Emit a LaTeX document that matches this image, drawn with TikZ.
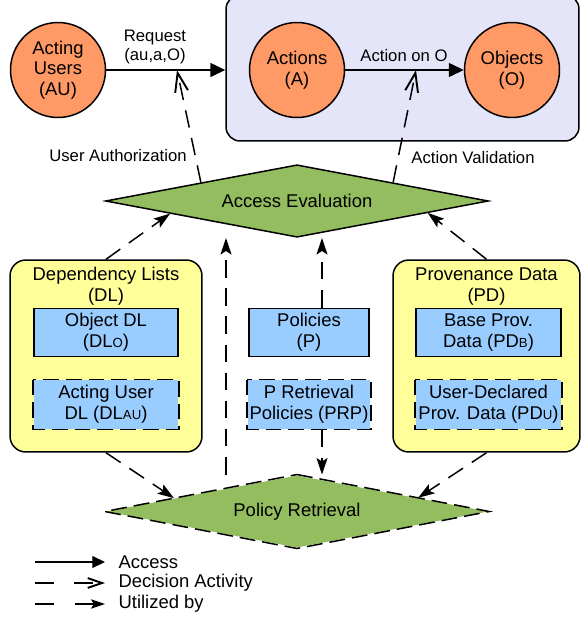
\documentclass[tikz,border=0pt]{standalone}
\usepackage{fontspec}
\setmainfont{Liberation Sans}
\usetikzlibrary{shapes.geometric,arrows.meta,calc}

\definecolor{entityorange}{RGB}{255,153,102}
\definecolor{worldlav}{RGB}{229,229,250}
\definecolor{datayellow}{RGB}{255,255,153}
\definecolor{storeblue}{RGB}{153,204,255}
\definecolor{evalgreen}{RGB}{147,189,94}

\newcommand{\smidx}[1]{{\fontsize{7.5}{8}\selectfont #1}}

\begin{document}
\begin{tikzpicture}[x=0.02cm, y=-0.02cm, line width=0.85pt,
    every node/.style={font=\fontsize{10.5}{11.8}\selectfont},
    lbl/.style={font=\fontsize{9.5}{10.8}\selectfont, align=center},
    entity/.style={circle, draw, fill=entityorange, minimum size=1.9cm, inner sep=0pt, align=center},
    world/.style={draw, fill=worldlav, rounded corners=8pt, minimum width=7.06cm, minimum height=2.92cm},
    container/.style={draw, fill=datayellow, rounded corners=9pt, minimum height=3.84cm},
    store/.style={draw, fill=storeblue, minimum height=0.97cm, inner sep=1pt, align=center},
    dstore/.style={store, draw=none, append after command={
        \pgfextra{\draw[dash pattern=on 9pt off 4pt, line width=1pt] (\tikzlastnode.north west) rectangle (\tikzlastnode.south east);}}},
    evalshape/.style={diamond, draw, fill=evalgreen, aspect=5.3, inner sep=0pt,
        minimum width=7.66cm, minimum height=1.45cm},
    access/.style={-{Triangle[length=3mm, width=2.8mm, scale=#1]}},
    access/.default=1,
    decision/.style={dash pattern=on 10pt off 6pt, -{Straight Barb[length=3.8mm, width=2.6mm, line width=1.1pt, scale=#1]}},
    decision/.default=1,
    utilized/.style={dash pattern=on 10pt off 6pt, -{Stealth[length=3.3mm, width=2.2mm, inset=0.7mm, scale=#1]}},
    utilized/.default=1]
  \useasboundingbox (0,0) rectangle (581,619);

  % --- acesso: usuarios, acoes, objetos ---
  \node[world] (sys) at (402.5,68) {};
  \node[entity] (au) at (58,70) {Acting\\Users\\(AU)};
  \node[entity] (act) at (297,70) {Actions\\(A)};
  \node[entity] (obj) at (512,70) {Objects\\(O)};

  \draw[access] (au.east) -- (au.east -| sys.west) coordinate (reqend);
  \draw[access] (act) -- (obj);
  \node[lbl] (reqlbl) at (155,47) {Request\\(au,a,O)};
  \node[lbl] (actlbl) at (404,56) {Action on O};

  % --- avaliacao de acesso ---
  \node[evalshape] (ae) at (297,201) {Access Evaluation};
  \node[lbl] (ualbl) at (118,156) {User Authorization};
  \node[lbl] (avlbl) at (473,158) {Action Validation};
  \coordinate (reqpt) at (177,70);
  \coordinate (actpt) at (416,70);
  \draw[decision] (ae.north west) -- (reqpt);
  \draw[decision] (ae.north east) -- (actpt);

  % --- listas de dependencia ---
  \node[container, minimum width=3.84cm] (dl) at (106,356) {};
  \node (dltitle) at (106,287) {\begin{tabular}{@{}c@{}}Dependency Lists\\(DL)\end{tabular}};
  \node[store, minimum width=2.88cm] (dlo) at (106,332.5) {Object DL\\(DL\smidx{O})};
  \node[dstore, minimum width=2.88cm] (dlau) at (106,404.5) {Acting User\\DL (DL\smidx{AU})};

  % --- politicas ---
  \node[store, minimum width=2.4cm] (pol) at (309,332.5) {Policies\\(P)};
  \node[dstore, minimum width=2.4cm] (prp) at (309,404.5) {P Retrieval\\Policies (PRP)};

  % --- dados de proveniencia ---
  \node[container, minimum width=3.74cm] (pd) at (486.5,356) {};
  \node (pdtitle) at (486.5,287) {\begin{tabular}{@{}c@{}}Provenance Data\\(PD)\end{tabular}};
  \node[store, minimum width=2.9cm] (pdb) at (488.5,332.5) {Base Prov.\\Data (PD\smidx{B})};
  \node[dstore, minimum width=2.9cm] (pdu) at (488.5,404.5) {User-Declared\\Prov. Data (PD\smidx{U})};

  % --- recuperacao de politicas ---
  \node[evalshape, draw=none] (pr) at (297,511.5) {Policy Retrieval};
  \draw[dash pattern=on 9pt off 4pt] (pr.north) -- (pr.east) -- (pr.south) -- (pr.west) -- cycle;

  % --- setas "utilized by" ---
  \draw[utilized] (dl.north) -- ($(ae.west)!0.34!(ae.south)$);
  \draw[utilized] (pd.north) -- ($(ae.east)!0.32!(ae.south)$);
  \draw[utilized] ($(pol.north)+(13,0)$) -- ($(ae.south)+(25,0)$);
  \draw[utilized] ($(pr.north)+(-71,0)$) -- ($(ae.south)+(-71,0)$);
  \draw[utilized] ($(prp.south)+(13,0)$) -- ($(pr.north)+(25,0)$);
  \draw[utilized] (dl.south) -- ($(pr.west)!0.36!(pr.north)$);
  \draw[utilized] (pd.south) -- ($(pr.east)!0.37!(pr.north)$);

  % --- legenda ---
  \foreach \row/\yy in {acc/562, dec/583, uti/604} {
    \coordinate (\row-a) at (35,\yy);
    \coordinate (\row-b) at (105,\yy);
  }
  \draw[access=0.85] (acc-a) -- (acc-b);
  \draw[decision=0.75, dash pattern=on 11pt off 11pt] (dec-a) -- (dec-b);
  \draw[utilized=0.85, dash pattern=on 11pt off 12pt] (uti-a) -- (uti-b);
  \node[anchor=west] (acctxt) at (112,562) {Access};
  \node[anchor=west] (dectxt) at (112,583) {Decision Activity};
  \node[anchor=west] (utitxt) at (112,604) {Utilized by};
\end{tikzpicture}
\end{document}
